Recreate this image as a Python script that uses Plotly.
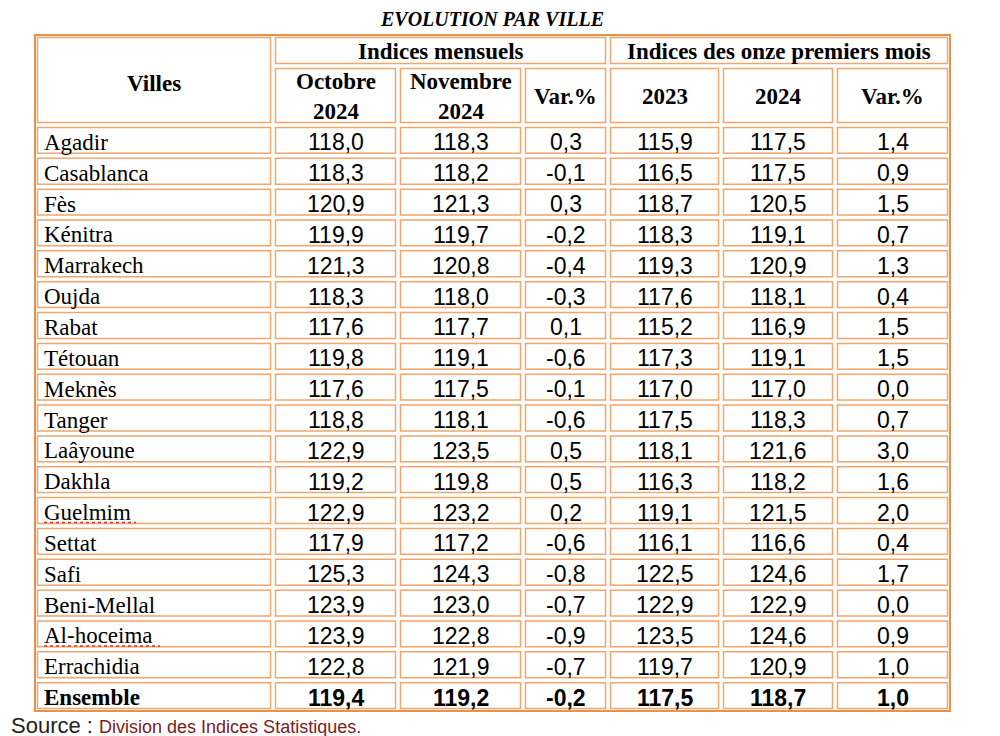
import plotly.graph_objects as go

# données du tableau
villes = ["Agadir", "Casablanca", "Fès", "Kénitra", "Marrakech", "Oujda", "Rabat",
          "Tétouan", "Meknès", "Tanger", "Laâyoune", "Dakhla", "Guelmim", "Settat",
          "Safi", "Beni-Mellal", "Al-hoceima", "Errachidia", "Ensemble"]
octobre_2024 = [118.0, 118.3, 120.9, 119.9, 121.3, 118.3, 117.6, 119.8, 117.6, 118.8,
                122.9, 119.2, 122.9, 117.9, 125.3, 123.9, 123.9, 122.8, 119.4]
novembre_2024 = [118.3, 118.2, 121.3, 119.7, 120.8, 118.0, 117.7, 119.1, 117.5, 118.1,
                 123.5, 119.8, 123.2, 117.2, 124.3, 123.0, 122.8, 121.9, 119.2]
var_mensuel = [0.3, -0.1, 0.3, -0.2, -0.4, -0.3, 0.1, -0.6, -0.1, -0.6,
               0.5, 0.5, 0.2, -0.6, -0.8, -0.7, -0.9, -0.7, -0.2]
onze_2023 = [115.9, 116.5, 118.7, 118.3, 119.3, 117.6, 115.2, 117.3, 117.0, 117.5,
             118.1, 116.3, 119.1, 116.1, 122.5, 122.9, 123.5, 119.7, 117.5]
onze_2024 = [117.5, 117.5, 120.5, 119.1, 120.9, 118.1, 116.9, 119.1, 117.0, 118.3,
             121.6, 118.2, 121.5, 116.6, 124.6, 122.9, 124.6, 120.9, 118.7]
var_onze = [1.4, 0.9, 1.5, 0.7, 1.3, 0.4, 1.5, 1.5, 0.0, 0.7,
            3.0, 1.6, 2.0, 0.4, 1.7, 0.0, 0.9, 1.0, 1.0]

groupes = ["Indices mensuels", "Indices des onze premiers mois"]
sous_titres = ["Octobre<br>2024", "Novembre<br>2024", "Var.%", "2023", "2024", "Var.%"]
fautes = ["Guelmim", "Al-hoceima"]  # soulignés rouges du correcteur

# mise en page (pixels de la page ; le body a une marge de 8px)
W, H = 1000, 736
off = 8
col_x = [35, 273, 398, 523, 608, 721, 835, 950]
top, h1, h2 = 35, 66, 125
bottom = 711
row_h = (bottom - h2) / len(villes)
ins = 2.5
outer_col = "#E8904C"
cell_col = "#F0A66C"
serif = "Liberation Serif, Times New Roman, serif"
sans = "Liberation Sans, Arial, sans-serif"

def fmt(v):
    return f"{v:.1f}".replace(".", ",")

shapes, annots = [], []

def cell(x0, x1, y0, y1):
    shapes.append(dict(type="rect", x0=x0 + ins, x1=x1 - ins, y0=y0 + ins, y1=y1 - ins,
                       line=dict(color=cell_col, width=1.5), layer="above"))

def txt(x, y, s, font, size, bold=False, align="center", color="black"):
    annots.append(dict(x=x, y=y, text=f"<b>{s}</b>" if bold else s, showarrow=False,
                       xanchor=align, yanchor="middle", align="center",
                       font=dict(family=font, size=size, color=color)))

# cadre extérieur
shapes.append(dict(type="rect", x0=col_x[0], x1=col_x[-1], y0=top, y1=bottom,
                   line=dict(color=outer_col, width=2)))

# en-têtes
cell(col_x[0], col_x[1], top, h2)
txt((col_x[0] + col_x[1]) / 2, 83, "Villes", serif, 23, bold=True)
for g, name in enumerate(groupes):
    x0, x1 = col_x[1 + 3 * g], col_x[4 + 3 * g]
    cell(x0, x1, top, h1)
    txt((x0 + x1) / 2, (top + h1) / 2 + 1, name, serif, 23, bold=True)
for j, s in enumerate(sous_titres):
    x0, x1 = col_x[1 + j], col_x[2 + j]
    cell(x0, x1, h1, h2)
    txt((x0 + x1) / 2, (h1 + h2) / 2 + 1, s, serif, 23, bold=True)

# lignes de données
colonnes = [octobre_2024, novembre_2024, var_mensuel, onze_2023, onze_2024, var_onze]
for i, ville in enumerate(villes):
    y0 = h2 + i * row_h
    y1 = y0 + row_h
    yc = (y0 + y1) / 2 + 2
    gras = ville == "Ensemble"
    cell(col_x[0], col_x[1], y0, y1)
    txt(col_x[0] + 7, yc, ville, serif, 23, bold=gras, align="left")
    if ville in fautes:
        wdt = 92 if ville == "Guelmim" else 116
        shapes.append(dict(type="line", x0=col_x[0] + 9, x1=col_x[0] + 9 + wdt,
                           y0=yc + 10, y1=yc + 10,
                           line=dict(color="#E03030", width=1.5, dash="dot")))
    for j, col in enumerate(colonnes):
        x0, x1 = col_x[1 + j], col_x[2 + j]
        cell(x0, x1, y0, y1)
        txt((x0 + x1) / 2, yc, fmt(col[i]), sans, 23, bold=gras)

# titre et source
txt(492, 19, "<i>EVOLUTION PAR VILLE</i>", serif, 20, bold=True)
annots.append(dict(x=9, y=725, xanchor="left", yanchor="middle", showarrow=False,
                   text="Source : <span style='font-size:18px;color:#7A2020'>"
                        "Division des Indices Statistiques.</span>",
                   font=dict(family=sans, size=22, color="#222222")))

fig = go.Figure()
fig.update_layout(
    width=W, height=H,
    margin=dict(l=0, r=0, t=0, b=0),
    paper_bgcolor="white", plot_bgcolor="white",
    xaxis=dict(range=[off, W + off], visible=False, fixedrange=True),
    yaxis=dict(range=[H + off, off], visible=False, fixedrange=True),
    shapes=shapes, annotations=annots,
    showlegend=False,
)
fig.write_html("out.html")
